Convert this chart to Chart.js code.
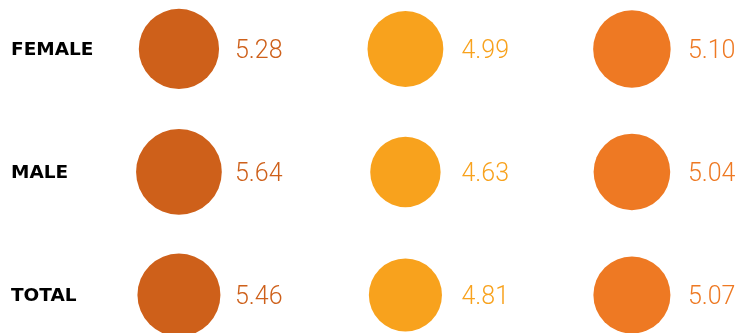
<!DOCTYPE html>
<html>
<head>
<meta charset="utf-8">
<script src="https://cdn.jsdelivr.net/npm/chart.js@4/dist/chart.umd.min.js"></script>
<style>
  body { margin: 0; background: #fff; }
  #wrap { width: 737px; height: 333px; position: relative; }
</style>
</head>
<body>
<div id="wrap"><canvas id="bubbleChart"></canvas></div>
<script>
// Row labels and the three value columns
const rows = ["FEMALE", "MALE", "TOTAL"];
const colA = [5.28, 5.64, 5.46];
const colB = [4.99, 4.63, 4.81];
const colC = [5.10, 5.04, 5.07];

const colors = ["#CE601A", "#F8A21D", "#EE7923"];
const pxPerUnit = 7.6; // bubble radius per value unit

function makeData(values, col) {
    return values.map((v, i) => ({ x: col, y: i, v: v }));
}

// Draws row names on the left and the value next to each bubble
const labelPlugin = {
    id: "labels",
    afterDatasetsDraw(chart) {
        const ctx = chart.ctx;
        const xs = chart.scales.x;
        const ys = chart.scales.y;
        ctx.save();
        ctx.textBaseline = "middle";
        ctx.textAlign = "left";
        ctx.fillStyle = "#000";
        ctx.font = "bold 18.5px 'DejaVu Sans'";
        rows.forEach((r, i) => ctx.fillText(r, 11, ys.getPixelForValue(i) + 1));

        ctx.font = "300 25px Roboto";
        chart.data.datasets.forEach((ds) => {
            ctx.fillStyle = ds.backgroundColor;
            ds.data.forEach((p) => {
                const px = xs.getPixelForValue(p.x) + 56;
                const py = ys.getPixelForValue(p.y) + 3;
                ctx.fillText(p.v.toFixed(2), px, py);
            });
        });
        ctx.restore();
    }
};

const ctx = document.getElementById("bubbleChart").getContext("2d");
new Chart(ctx, {
    type: "bubble",
    data: {
        datasets: [colA, colB, colC].map((vals, c) => ({
            data: makeData(vals, c),
            backgroundColor: colors[c],
            borderWidth: 0,
            clip: false,
            radius: (c2) => c2.raw.v * pxPerUnit
        }))
    },
    options: {
        responsive: true,
        maintainAspectRatio: false,
        animation: false,
        events: [],
        layout: { padding: 0, autoPadding: false },
        scales: {
            x: { type: "linear", min: -0.790, max: 2.464, display: false },
            y: { type: "linear", min: -0.398, max: 2.309, reverse: true, display: false }
        },
        plugins: {
            legend: { display: false },
            tooltip: { enabled: false }
        }
    },
    plugins: [labelPlugin]
});
</script>
</body>
</html>
